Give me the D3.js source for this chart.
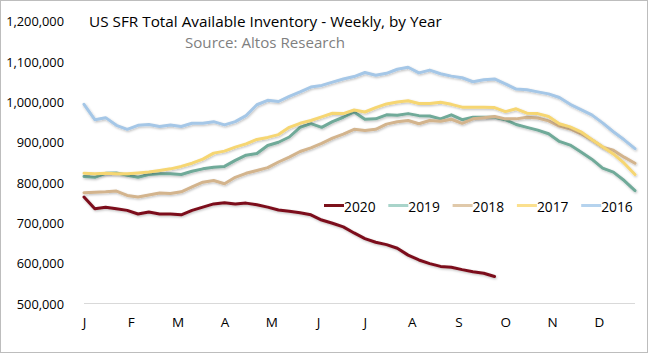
<!DOCTYPE html>
<html>
<head>
<meta charset="utf-8">
<script src="https://cdn.jsdelivr.net/npm/d3@7"></script>
<style>
  html, body { margin: 0; padding: 0; background: #fff; }
  svg { display: block; }
  text { font-family: "Open Sans", "Noto Sans", sans-serif; }
</style>
</head>
<body>
<svg id="chart" width="649" height="355"></svg>
<script>
// ---- data (values in thousands of homes, weekly) ----
const months = ["J","F","M","A","M","J","J","A","S","O","N","D"];
const seriesNames = ["2020","2019","2018","2017","2016"];
const v2020 = [764,735,739,735,731,722,727,722,722,720,731,739,747,750,747,749,745,739,732,729,725,720,707,699,690,675,661,652,646,637,620,608,599,592,590,584,579,575,567];
const v2019 = [815,813,823,824,818,813,820,822,822,820,828,834,838,840,855,868,872,892,900,913,937,946,937,951,962,975,957,958,968,967,971,966,965,958,968,956,962,962,962,956,944,937,930,921,902,893,876,858,836,826,805,780];
const v2018 = [775,776,777,779,768,764,769,774,773,777,789,801,805,797,813,823,830,837,851,863,877,886,897,910,920,932,929,932,945,951,954,946,954,952,957,947,958,961,964,958,958,962,960,953,940,933,921,906,888,880,863,848];
const v2017 = [823,822,823,822,822,824,826,830,834,840,848,858,873,878,888,896,907,912,919,937,947,954,963,972,971,980,975,986,995,1000,1003,996,996,999,994,987,987,987,986,976,983,972,971,964,946,938,926,907,889,871,848,820];
const v2016 = [994,956,961,942,932,942,944,939,943,939,947,947,951,943,951,966,993,1004,1001,1014,1025,1037,1041,1049,1057,1063,1073,1066,1071,1081,1086,1072,1079,1070,1064,1060,1050,1055,1057,1045,1032,1030,1025,1020,1011,994,981,968,948,926,906,884];
const yTicks = [500000,600000,700000,800000,900000,1000000,1100000,1200000];

const lineColors = {"2020":"#7c111b","2019":"#70aa99","2018":"#d3b48d","2017":"#f6d672","2016":"#a5c7e7"};
const legendColors = {"2020":"#7c111b","2019":"#a9d4ca","2018":"#e0c9aa","2017":"#fbe08e","2016":"#b5d3ee"};
const valuesByName = {"2020":v2020,"2019":v2019,"2018":v2018,"2017":v2017,"2016":v2016};

const svg = d3.select("#chart");

// border
svg.append("rect").attr("x",0.5).attr("y",0.5).attr("width",647).attr("height",352)
  .attr("fill","#fff").attr("stroke","#bdbdbd").attr("stroke-width",1);

// shadow filter
const defs = svg.append("defs");
const f = defs.append("filter").attr("id","shadow").attr("x","-5%").attr("y","-5%").attr("width","110%").attr("height","120%");
f.append("feDropShadow").attr("dx",0.8).attr("dy",1.2).attr("stdDeviation",0.8)
  .attr("flood-color","#000").attr("flood-opacity",0.25);

const x = d3.scaleLinear().domain([0,51]).range([84,635]);
const y = d3.scaleLinear().domain([500000,1200000]).range([303.5,21.3]);

// baseline grid line at 500k
svg.append("line").attr("x1",x(0)).attr("x2",x(51)).attr("y1",y(500000)).attr("y2",y(500000))
  .attr("stroke","#d9d9d9").attr("stroke-width",1);

// y axis
const yAxis = svg.append("g").attr("transform",`translate(${x(0)},0)`)
  .call(d3.axisLeft(y).tickValues(yTicks).tickFormat(d3.format(",")).tickSize(0).tickPadding(20));
yAxis.select(".domain").remove();
yAxis.selectAll("text").attr("font-size",12.8).attr("fill","#000")
  .attr("font-family","'Open Sans', sans-serif").attr("dy","0.36em");

// x axis
const monthPos = months.map((m,i)=> i*52/12);
const xAxis = svg.append("g").attr("transform",`translate(0,${y(500000)})`)
  .call(d3.axisBottom(x).tickValues(monthPos).tickFormat((d,i)=>months[i]).tickSize(0).tickPadding(14));
xAxis.select(".domain").remove();
xAxis.selectAll("text").attr("font-size",13.5).attr("fill","#000")
  .attr("font-family","'Open Sans', sans-serif");

// lines
const line = d3.line().x((d,i)=>x(i)).y(d=>y(d*1000));
seriesNames.forEach(name => {
  svg.append("path").datum(valuesByName[name])
    .attr("fill","none")
    .attr("stroke",lineColors[name])
    .attr("stroke-width", 3)
    .attr("stroke-linejoin","round")
    .attr("stroke-linecap","round")
    .attr("filter","url(#shadow)")
    .attr("d",line);
});

// title
function fitText(sel, targetWidth){
  const w = sel.node().getComputedTextLength();
  const fs = parseFloat(sel.attr("font-size"));
  sel.attr("font-size", fs*targetWidth/w);
}
const title = svg.append("text").attr("x",89).attr("y",27).attr("font-size",17).attr("fill","#000")
  .text("US SFR Total Available Inventory - Weekly, by Year");
fitText(title, 353);
const sub = svg.append("text").attr("x",185).attr("y",48).attr("font-size",15).attr("fill","#7f7f7f")
  .text("Source: Altos Research");
fitText(sub, 160);

// legend
const legend = svg.append("g");
seriesNames.forEach((name,i)=>{
  const lx = 324 + i*64.3;
  legend.append("line").attr("x1",lx).attr("x2",lx+20).attr("y1",205.5).attr("y2",205.5)
    .attr("stroke",legendColors[name]).attr("stroke-width",3);
  legend.append("text").attr("x",lx+20).attr("y",212).attr("font-size",13.8).attr("fill","#000").text(name);
});
</script>
</body>
</html>
